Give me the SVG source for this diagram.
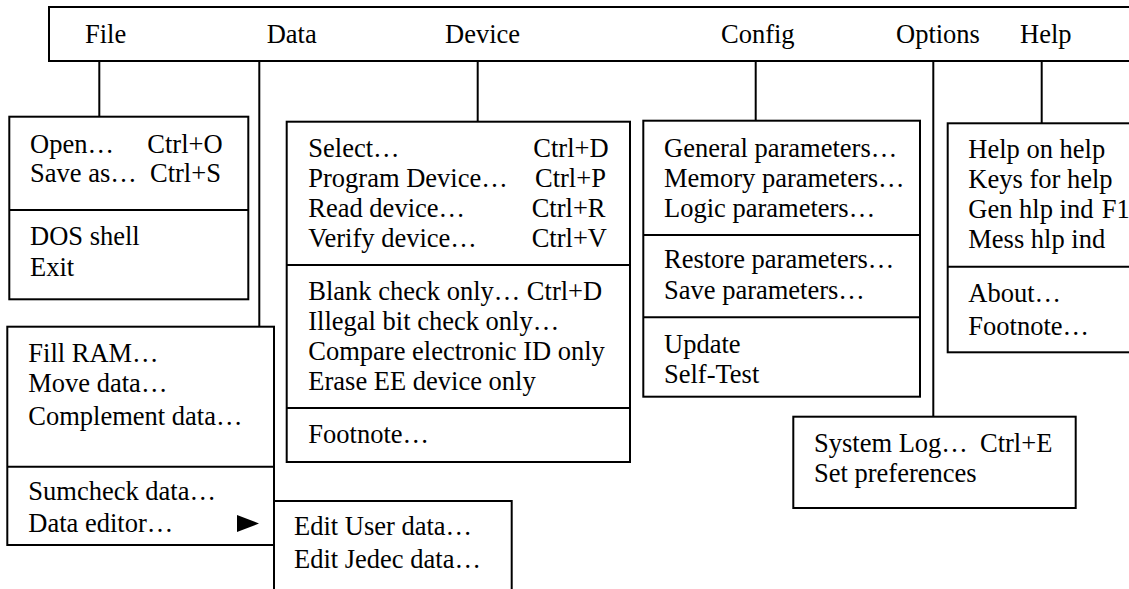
<svg xmlns="http://www.w3.org/2000/svg" width="1129" height="589" viewBox="0 0 1129 589">
<style>
text{font-family:"Liberation Serif","Times New Roman",serif;font-size:26.5px;fill:#000}
.box{fill:#fff;stroke:#000;stroke-width:2}
.ln{stroke:#000;stroke-width:2;fill:none}
</style>
<rect width="1129" height="589" fill="#fff"/>
<g id="connectors">
<line class="ln" x1="99.3" y1="61" x2="99.3" y2="117"/>
<line class="ln" x1="259.3" y1="61" x2="259.3" y2="327"/>
<line class="ln" x1="477.7" y1="61" x2="477.7" y2="122"/>
<line class="ln" x1="755.7" y1="61" x2="755.7" y2="121"/>
<line class="ln" x1="933.3" y1="61" x2="933.3" y2="417"/>
<line class="ln" x1="1041.7" y1="61" x2="1041.7" y2="123"/>
</g>
<g id="menubar">
<rect class="box" x="49" y="7" width="1100" height="54"/>
<text x="85" y="43.3">File</text>
<text x="266.7" y="43.3">Data</text>
<text x="445" y="43.3">Device</text>
<text x="721" y="43.3">Config</text>
<text x="896" y="43.3">Options</text>
<text x="1020" y="43.3">Help</text>
</g>
<g id="file-menu">
<rect class="box" x="9.3" y="116.7" width="239" height="182.6"/>
<line class="ln" x1="9.3" y1="210" x2="248.3" y2="210"/>
<text x="30" y="152.7">Open…</text><text x="147.3" y="152.7">Ctrl+O</text>
<text x="30" y="181.7">Save as…</text><text x="150" y="181.7">Ctrl+S</text>
<text x="30" y="245">DOS shell</text>
<text x="30" y="275.7">Exit</text>
</g>
<g id="data-menu">
<rect class="box" x="7.3" y="326.7" width="266.7" height="218.3"/>
<line class="ln" x1="7.3" y1="466.7" x2="274" y2="466.7"/>
<text x="28.3" y="361.7">Fill RAM…</text>
<text x="28.3" y="391.7">Move data…</text>
<text x="28.3" y="425">Complement data…</text>
<text x="28.3" y="500">Sumcheck data…</text>
<text x="28.3" y="531.7">Data editor…</text>
<polygon points="237,515 259,523.5 237,532" fill="#000"/>
</g>
<g id="data-editor-submenu">
<rect class="box" x="274" y="501" width="237.7" height="100"/>
<text x="294" y="535">Edit User data…</text>
<text x="294" y="568.3">Edit Jedec data…</text>
</g>
<g id="device-menu">
<rect class="box" x="286.7" y="121.7" width="343.3" height="340.3"/>
<line class="ln" x1="286.7" y1="265" x2="630" y2="265"/>
<line class="ln" x1="286.7" y1="408" x2="630" y2="408"/>
<text x="308.3" y="156.7">Select…</text><text x="533.3" y="156.7">Ctrl+D</text>
<text x="308.3" y="186.7">Program Device…</text><text x="535" y="186.7">Ctrl+P</text>
<text x="308.3" y="216.7">Read device…</text><text x="531.7" y="216.7">Ctrl+R</text>
<text x="308.3" y="246.7">Verify device…</text><text x="531.7" y="246.7">Ctrl+V</text>
<text x="308.3" y="300">Blank check only… Ctrl+D</text>
<text x="308.3" y="330">Illegal bit check only…</text>
<text x="308.3" y="360">Compare electronic ID only</text>
<text x="308.3" y="390">Erase EE device only</text>
<text x="308.3" y="443">Footnote…</text>
</g>
<g id="config-menu">
<rect class="box" x="643.3" y="120.7" width="276.7" height="276"/>
<line class="ln" x1="643.3" y1="235" x2="920" y2="235"/>
<line class="ln" x1="643.3" y1="317.3" x2="920" y2="317.3"/>
<text x="664" y="156.7">General parameters…</text>
<text x="664" y="186.7">Memory parameters…</text>
<text x="664" y="216.7">Logic parameters…</text>
<text x="664" y="267.5">Restore parameters…</text>
<text x="664" y="299">Save parameters…</text>
<text x="664" y="352.7">Update</text>
<text x="664" y="382.7">Self-Test</text>
</g>
<g id="options-menu">
<rect class="box" x="793.3" y="416.7" width="282.4" height="91.3"/>
<text x="814" y="451.7">System Log…</text><text x="980" y="451.7">Ctrl+E</text>
<text x="814" y="481.7">Set preferences</text>
</g>
<g id="help-menu">
<rect class="box" x="947.7" y="123.3" width="200" height="229"/>
<line class="ln" x1="947.7" y1="266.7" x2="1140" y2="266.7"/>
<text x="968.3" y="158.3">Help on help</text>
<text x="968.3" y="188.3">Keys for help</text>
<text x="968.3" y="218.3">Gen hlp ind</text><text x="1101.7" y="218.3">F1</text>
<text x="968.3" y="248.3">Mess hlp ind</text>
<text x="968.3" y="301.7">About…</text>
<text x="968.3" y="335">Footnote…</text>
</g>
</svg>
